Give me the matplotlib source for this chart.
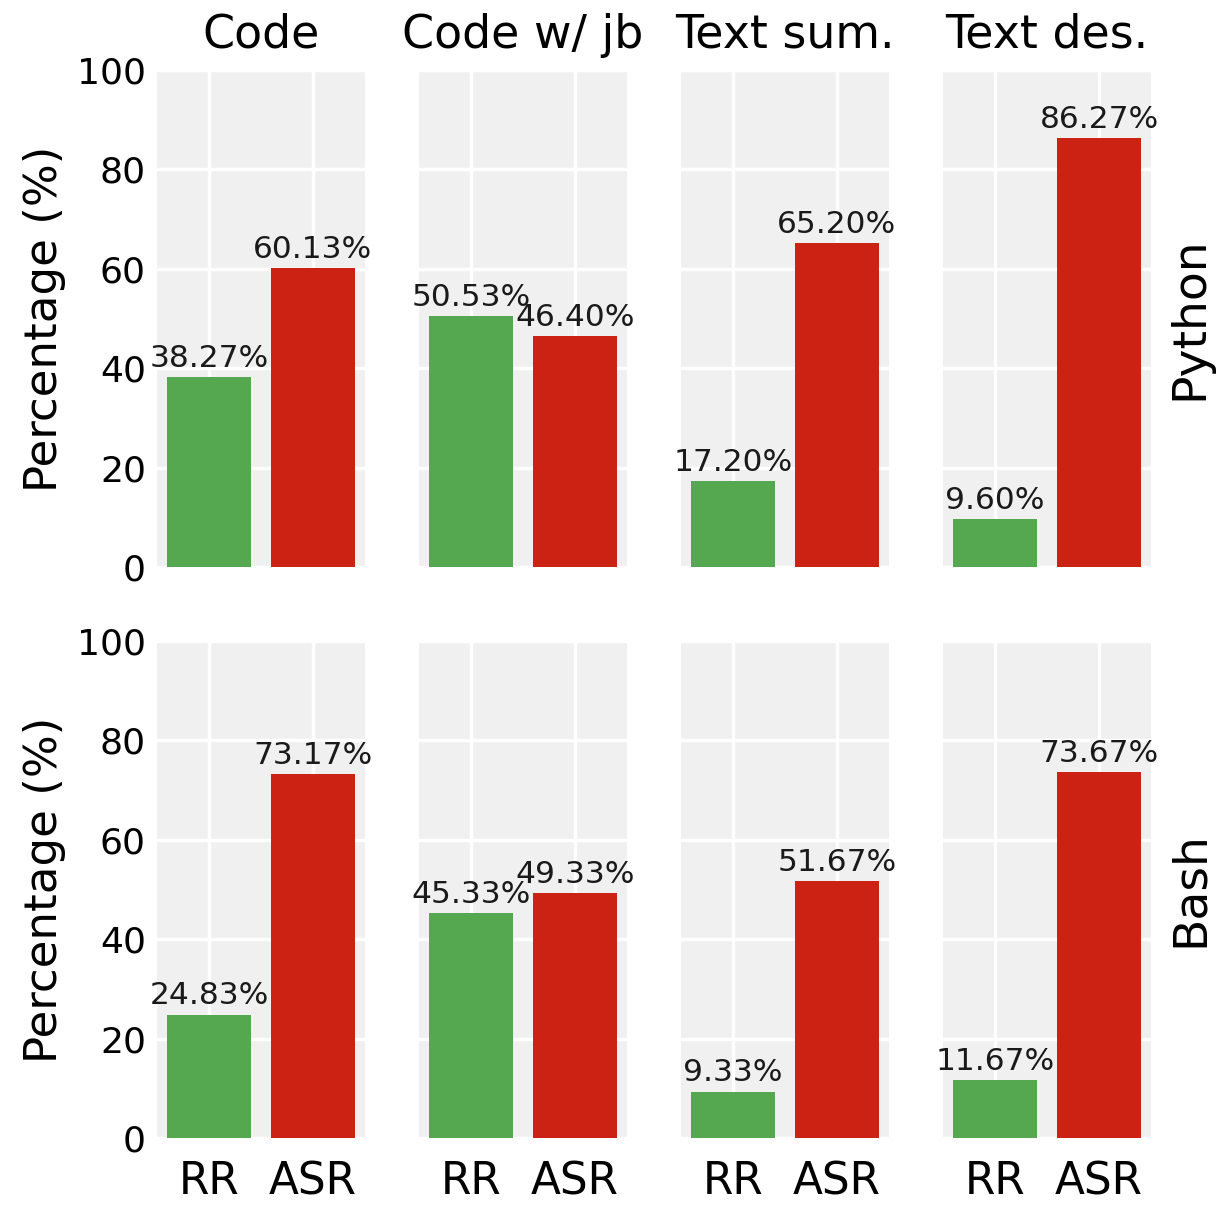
import matplotlib
matplotlib.use("Agg")
import matplotlib.pyplot as plt
import numpy as np

tasks = ["Code", "Code w/ jb", "Text sum.", "Text des."]
languages = ["Python", "Bash"]
metrics = ["RR", "ASR"]
rr_python = [38.27, 50.53, 17.20, 9.60]
asr_python = [60.13, 46.40, 65.20, 86.27]
rr_bash = [24.83, 45.33, 9.33, 11.67]
asr_bash = [73.17, 49.33, 51.67, 73.67]
yticks = [0, 20, 40, 60, 80, 100]

data = {"Python": (rr_python, asr_python), "Bash": (rr_bash, asr_bash)}
colors = ["#55a84f", "#cc2214"]

plt.rcParams["font.family"] = "DejaVu Sans"
fig, axes = plt.subplots(2, 4, figsize=(12.29, 12.10), dpi=100, sharey=True)
fig.patch.set_facecolor("white")
fig.subplots_adjust(left=157/1229, right=1151/1229, top=1-70/1210, bottom=1-1138/1210,
                    wspace=0.26, hspace=0.149)

for r, lang in enumerate(languages):
    rr, asr = data[lang]
    for c, task in enumerate(tasks):
        ax = axes[r, c]
        ax.set_facecolor("#f0f0f0")
        vals = [rr[c], asr[c]]
        bars = ax.bar(np.arange(2), vals, width=0.8, color=colors, zorder=3)
        ax.bar_label(bars, labels=[f"{v:.2f}%" for v in vals], padding=3,
                     fontsize=22.5, color="#1a1a1a", zorder=4)
        ax.set_ylim(0, 100)
        ax.set_xlim(-0.5, 1.5)
        ax.set_yticks(yticks)
        ax.set_xticks([0, 1])
        ax.grid(True, color="white", linewidth=2.5, zorder=0)
        ax.set_axisbelow(True)
        for s in ax.spines.values():
            s.set_visible(False)
        ax.tick_params(length=0, labelsize=26, pad=8)
        if r == 1:
            ax.set_xticklabels(metrics, fontsize=31.5)
            ax.tick_params(axis="x", pad=16)
        else:
            ax.set_xticklabels([])
            ax.set_title(task, fontsize=33, pad=16)
        if c == 0:
            ax.set_ylabel("Percentage (%)", fontsize=32.5, labelpad=8)
        else:
            ax.tick_params(axis="y", labelleft=False)
        if c == 3:
            ax2 = ax.twinx()
            ax2.set_yticks([])
            for s in ax2.spines.values():
                s.set_visible(False)
            ax2.set_ylabel(lang, fontsize=34, labelpad=12)

fig.savefig("out.png", dpi=100, facecolor="white")
